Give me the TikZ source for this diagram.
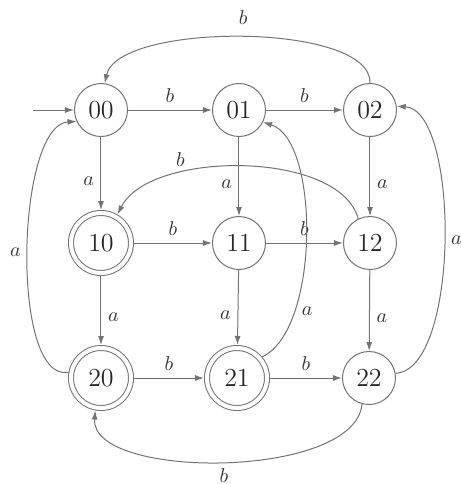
\documentclass[tikz,border=0pt]{standalone}
\usetikzlibrary{arrows.meta}

\begin{document}
\begin{tikzpicture}[
  x=0.5pt,
  y=-0.5pt,
  >={Latex[length=4.5pt,width=3pt]},
  line/.style={draw=black!55,line width=0.5pt},
  arrow/.style={line,->},
  state/.style={circle,line,minimum size=26.5pt,inner sep=0pt,
    font=\fontsize{13pt}{15pt}\selectfont,text=black!85},
  accept/.style={state,double,double distance=2pt,minimum size=30pt,outer sep=1.5pt},
  lbl/.style={font=\normalsize,text=black!80}
]
\useasboundingbox (0,0) rectangle (461,484);

% States
\node[state]  (s00) at (101,110) {00};
\node[state]  (s01) at (239,110) {01};
\node[state]  (s02) at (370,110) {02};
\node[accept] (s10) at (101,243) {10};
\node[state]  (s11) at (239,243) {11};
\node[state]  (s12) at (370,243) {12};
\node[accept] (s20) at (101,378) {20};
\node[accept] (s21) at (237,378) {21};
\node[state]  (s22) at (369,378) {22};

% Initial arrow
\coordinate (start) at (33,110);
\draw[arrow] (start) -- (s00.west);

% Horizontal b-transitions
\draw[arrow] (s00) -- node[lbl,above] {$b$} (s01);
\draw[arrow] (s01) -- node[lbl,above] {$b$} (s02);
\draw[arrow] (s10) -- node[lbl,above] {$b$} (s11);
\draw[arrow] (s11) -- node[lbl,above] {$b$} (s12);
\draw[arrow] (s20) -- node[lbl,above] {$b$} (s21);
\draw[arrow] (s21) -- node[lbl,above] {$b$} (s22);

% Vertical a-transitions
\draw[arrow] (s00) -- node[lbl,left,pos=0.6] {$a$} (s10);
\draw[arrow] (s01) -- node[lbl,left,pos=0.6] {$a$} (s11);
\draw[arrow] (s02) -- node[lbl,right,pos=0.6] {$a$} (s12);
\draw[arrow] (s10) -- node[lbl,right,pos=0.6] {$a$} (s20);
\draw[arrow] (s11) -- node[lbl,left,pos=0.6] {$a$} (s21);
\draw[arrow] (s12) -- node[lbl,right,pos=0.6] {$a$} (s22);

% Curved b-transitions back
\draw[arrow] (s02.north) .. controls (372,22) and (118,22) .. node[lbl,above=3pt] {$b$} (s00.82);
\draw[arrow] (s12.116) .. controls (340,150) and (150,150) .. node[lbl,above,pos=0.7] {$b$} (s10.60);
\draw[arrow] (s22.-105) .. controls (355,480) and (90,480) .. node[lbl,below,pos=0.5] {$b$} (s20.-100);

% Curved a-transitions back
\draw[arrow] (s21.40) .. controls (320,330) and (320,140) .. node[lbl,right,pos=0.25] {$a$} (s01.-27);
\draw[arrow] (s22.10) .. controls (460,370) and (460,110) .. node[lbl,right,pos=0.5] {$a$} (s02.8);
\draw[arrow] (s20.170) .. controls (10,383) and (16,125) .. node[lbl,left,pos=0.5] {$a$} (s00.205);

\end{tikzpicture}
\end{document}
